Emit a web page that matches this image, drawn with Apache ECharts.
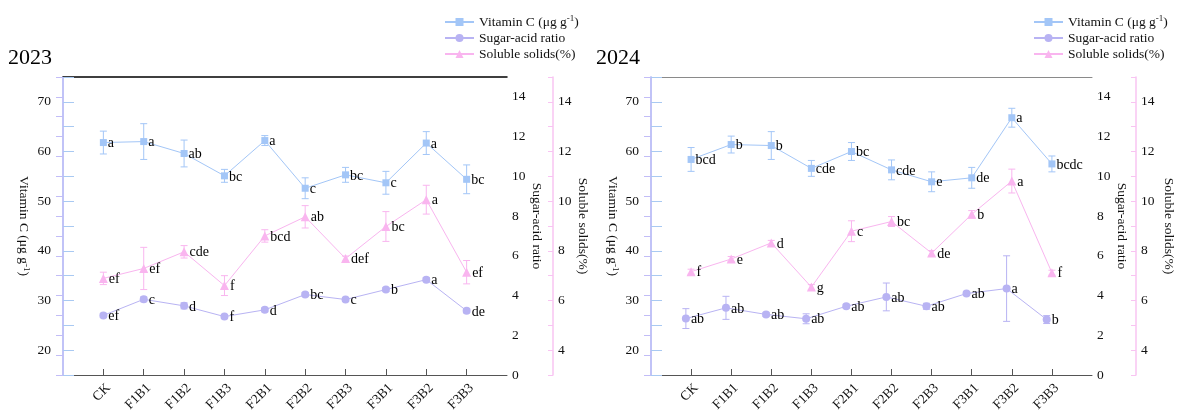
<!DOCTYPE html>
<html><head><meta charset="utf-8">
<script src="https://cdn.jsdelivr.net/npm/echarts@6/dist/echarts.min.js"></script>
<style>html,body{margin:0;padding:0;background:#fff}#c{width:1177px;height:416px}</style>
</head><body><div id="c"></div>
<script>
// ---------------- data ----------------
const categories = ['CK','F1B1','F1B2','F1B3','F2B1','F2B2','F2B3','F3B1','F3B2','F3B3'];
const seriesNames = ['Vitamin C','Sugar-acid ratio','Soluble solids(%)'];

const vc2023    = [61.8, 62.0, 59.6, 55.1, 62.2, 52.6, 55.3, 53.7, 61.7, 54.4];
const vc2023Err = [2.3, 3.6, 2.7, 1.3, 1.0, 2.1, 1.5, 2.3, 2.3, 2.9];
const vc2023Sig = ['a','a','ab','bc','a','c','bc','c','a','bc'];
const sa2023    = [3.00, 3.81, 3.48, 2.94, 3.28, 4.05, 3.80, 4.30, 4.80, 3.23];
const sa2023Err = [0.10, 0.12, 0.15, 0.10, 0.10, 0.10, 0.10, 0.10, 0.10, 0.10];
const sa2023Sig = ['ef','c','d','f','d','bc','c','b','a','de'];
const ss2023    = [6.89, 7.29, 7.96, 6.60, 8.60, 9.37, 7.69, 8.98, 10.06, 7.14];
const ss2023Err = [0.25, 0.85, 0.25, 0.40, 0.25, 0.45, 0.10, 0.60, 0.58, 0.47];
const ss2023Sig = ['ef','ef','cde','f','bcd','ab','def','bc','a','ef'];

const vc2024    = [58.4, 61.4, 61.2, 56.6, 60.0, 56.3, 53.9, 54.7, 66.8, 57.5];
const vc2024Err = [2.4, 1.7, 2.8, 1.6, 1.8, 2.0, 2.0, 2.1, 1.9, 1.6];
const vc2024Sig = ['bcd','b','b','cde','bc','cde','e','de','a','bcdc'];
const sa2024    = [2.84, 3.38, 3.05, 2.83, 3.46, 3.93, 3.46, 4.10, 4.35, 2.79];
const sa2024Err = [0.50, 0.58, 0.10, 0.25, 0.10, 0.70, 0.15, 0.10, 1.65, 0.20];
const sa2024Sig = ['ab','ab','ab','ab','ab','ab','ab','ab','a','b'];
const ss2024    = [7.16, 7.67, 8.32, 6.54, 8.79, 9.18, 7.91, 9.47, 10.81, 7.12];
const ss2024Err = [0.10, 0.10, 0.10, 0.10, 0.42, 0.20, 0.10, 0.15, 0.48, 0.10];
const ss2024Sig = ['f','e','d','g','c','bc','de','b','a','f'];

// ---------------- style / layout ----------------
const FONT = '"Liberation Serif", "Times New Roman", serif';
const COLORS = ['#a3c6f7', '#b8b3f3', '#f9b5ef'];
const AXIS_COLORS = ['#a9c9f2', '#c2bdf7', '#f8c4f2'];
const SYMBOLS = ['rect', 'circle', 'triangle'];
const SIZES = [7, 8, 9];

const panels = [
  { title: '2023', titleLeft: 8, left: 63, width: 444, ssOffset: 46,
    topColor: '#000', topWidth: 1.5, saShift: 0, legendLeft: 444,
    nameGaps: [32, 23, 23],
    vals: [vc2023, sa2023, ss2023], errs: [vc2023Err, sa2023Err, ss2023Err], sigs: [vc2023Sig, sa2023Sig, ss2023Sig] },
  { title: '2024', titleLeft: 596, left: 651, width: 443, ssOffset: 44,
    topColor: '#8a8a8a', topWidth: 1, saShift: -0.13, legendLeft: 1033,
    nameGaps: [31, 19, 26],
    vals: [vc2024, sa2024, ss2024], errs: [vc2024Err, sa2024Err, ss2024Err], sigs: [vc2024Sig, sa2024Sig, ss2024Sig] }
];

const tickVals = categories.map((c, i) => i + 1);
const vcName = '{t|Vitamin C (μg g}{s|-1}{t|)}';
const richText = {
  t: { fontFamily: FONT, fontSize: 13.5, color: '#111' },
  s: { fontFamily: FONT, fontSize: 9, color: '#111', verticalAlign: 'top', lineHeight: 9 }
};

const grid = [], xAxis = [], yAxis = [], series = [], legend = [], title = [];

panels.forEach((p, pi) => {
  grid.push({ left: p.left, width: p.width, top: 77, bottom: 41, containLabel: false });
  title.push({ text: p.title, left: p.titleLeft, top: 47, padding: 0,
    textStyle: { fontFamily: FONT, fontSize: 22, fontWeight: 'normal', color: '#000' } });
  legend.push({
    data: seriesNames, orient: 'vertical', left: p.legendLeft, top: 14,
    itemWidth: 29, itemHeight: 10, itemGap: 0, padding: 0,
    formatter: n => n === 'Vitamin C' ? vcName : '{t|' + n + '}',
    textStyle: { fontFamily: FONT, fontSize: 13.5, color: '#111', lineHeight: 16, rich: richText }
  });
  xAxis.push({
    gridIndex: pi, type: 'value', min: 0, max: categories.length + 1, interval: 1, position: 'bottom',
    axisLine: { show: true, lineStyle: { color: '#555', width: 1 } },
    axisTick: { show: true, inside: true, length: 6, customValues: tickVals, lineStyle: { color: '#555' } },
    axisLabel: { customValues: tickVals, rotate: 45, margin: 6, verticalAlign: 'top',
      formatter: v => categories[v - 1] || '',
      fontFamily: FONT, fontSize: 13.5, color: '#111' },
    splitLine: { show: false }
  });
  xAxis.push({
    gridIndex: pi, type: 'value', min: 0, max: categories.length + 1, position: 'top',
    axisLine: { show: true, lineStyle: { color: p.topColor, width: p.topWidth } },
    axisTick: { show: false }, axisLabel: { show: false }, splitLine: { show: false }
  });
  const axisDefs = [
    { min: 15, max: 75, interval: 5, every: 10, position: 'left', offset: 0, tick: 11, margin: 12,
      name: vcName },
    { min: 0, max: 15, interval: 1, every: 2, position: 'right', offset: 0, tick: 7, margin: 5,
      name: '{t|Sugar-acid ratio}' },
    { min: 3, max: 15, interval: 1, every: 2, position: 'right', offset: p.ssOffset, tick: 5, margin: 5,
      name: '{t|Soluble solids(%)}' }
  ];
  axisDefs.forEach((a, k) => {
    yAxis.push({
      gridIndex: pi, type: 'value', min: a.min, max: a.max, interval: a.interval,
      position: a.position, offset: a.offset,
      axisLine: { show: true, lineStyle: { color: AXIS_COLORS[k], width: 1.5 } },
      axisTick: { show: true, inside: true, length: a.tick, lineStyle: { color: AXIS_COLORS[k], width: 1 } },
      axisLabel: { margin: a.margin, formatter: v => (v % a.every === 0 ? String(v) : ''),
        fontFamily: FONT, fontSize: 13.5, color: '#111' },
      splitLine: { show: false },
      name: a.name, nameLocation: 'middle', nameRotate: -90, nameGap: p.nameGaps[k],
      nameTextStyle: { fontFamily: FONT, fontSize: 13.5, color: '#111', rich: richText }
    });
  });
  for (let k = 0; k < 3; k++) {
    const shift = k === 1 ? p.saShift : 0;
    const vals = p.vals[k], errs = p.errs[k], sigs = p.sigs[k];
    const color = COLORS[k];
    series.push({
      type: 'line', name: seriesNames[k], xAxisIndex: pi * 2, yAxisIndex: pi * 3 + k,
      data: vals.map((v, i) => [i + 1 + shift, v]),
      symbol: SYMBOLS[k], symbolSize: SIZES[k], showAllSymbol: true,
      lineStyle: { color: color, width: 1 }, itemStyle: { color: color, opacity: 1 },
      label: { show: true, position: 'right', distance: 1, offset: [0, 1],
        formatter: pr => sigs[pr.dataIndex], fontFamily: FONT, fontSize: 14, color: '#000' },
      emphasis: { disabled: true }, animation: false, z: 3
    });
    series.push({
      type: 'custom', name: seriesNames[k] + ' err', xAxisIndex: pi * 2, yAxisIndex: pi * 3 + k,
      data: vals.map((v, i) => [i + 1 + shift, v, errs[i]]),
      encode: { x: 0, y: 1 }, silent: true, animation: false, z: 2, clip: false,
      renderItem: (params, api) => {
        const x = api.value(0), y = api.value(1), e = api.value(2);
        const t = api.coord([x, y + e]), b = api.coord([x, y - e]);
        const w = 3.5, st = { stroke: color, lineWidth: 1 };
        return { type: 'group', children: [
          { type: 'line', shape: { x1: t[0], y1: t[1], x2: b[0], y2: b[1] }, style: st },
          { type: 'line', shape: { x1: t[0] - w, y1: t[1], x2: t[0] + w, y2: t[1] }, style: st },
          { type: 'line', shape: { x1: b[0] - w, y1: b[1], x2: b[0] + w, y2: b[1] }, style: st }
        ] };
      }
    });
  }
});

const chart = echarts.init(document.getElementById('c'), null, { renderer: 'canvas' });
chart.setOption({ backgroundColor: '#fff', animation: false, title, legend, grid, xAxis, yAxis, series });
</script>
</body></html>
